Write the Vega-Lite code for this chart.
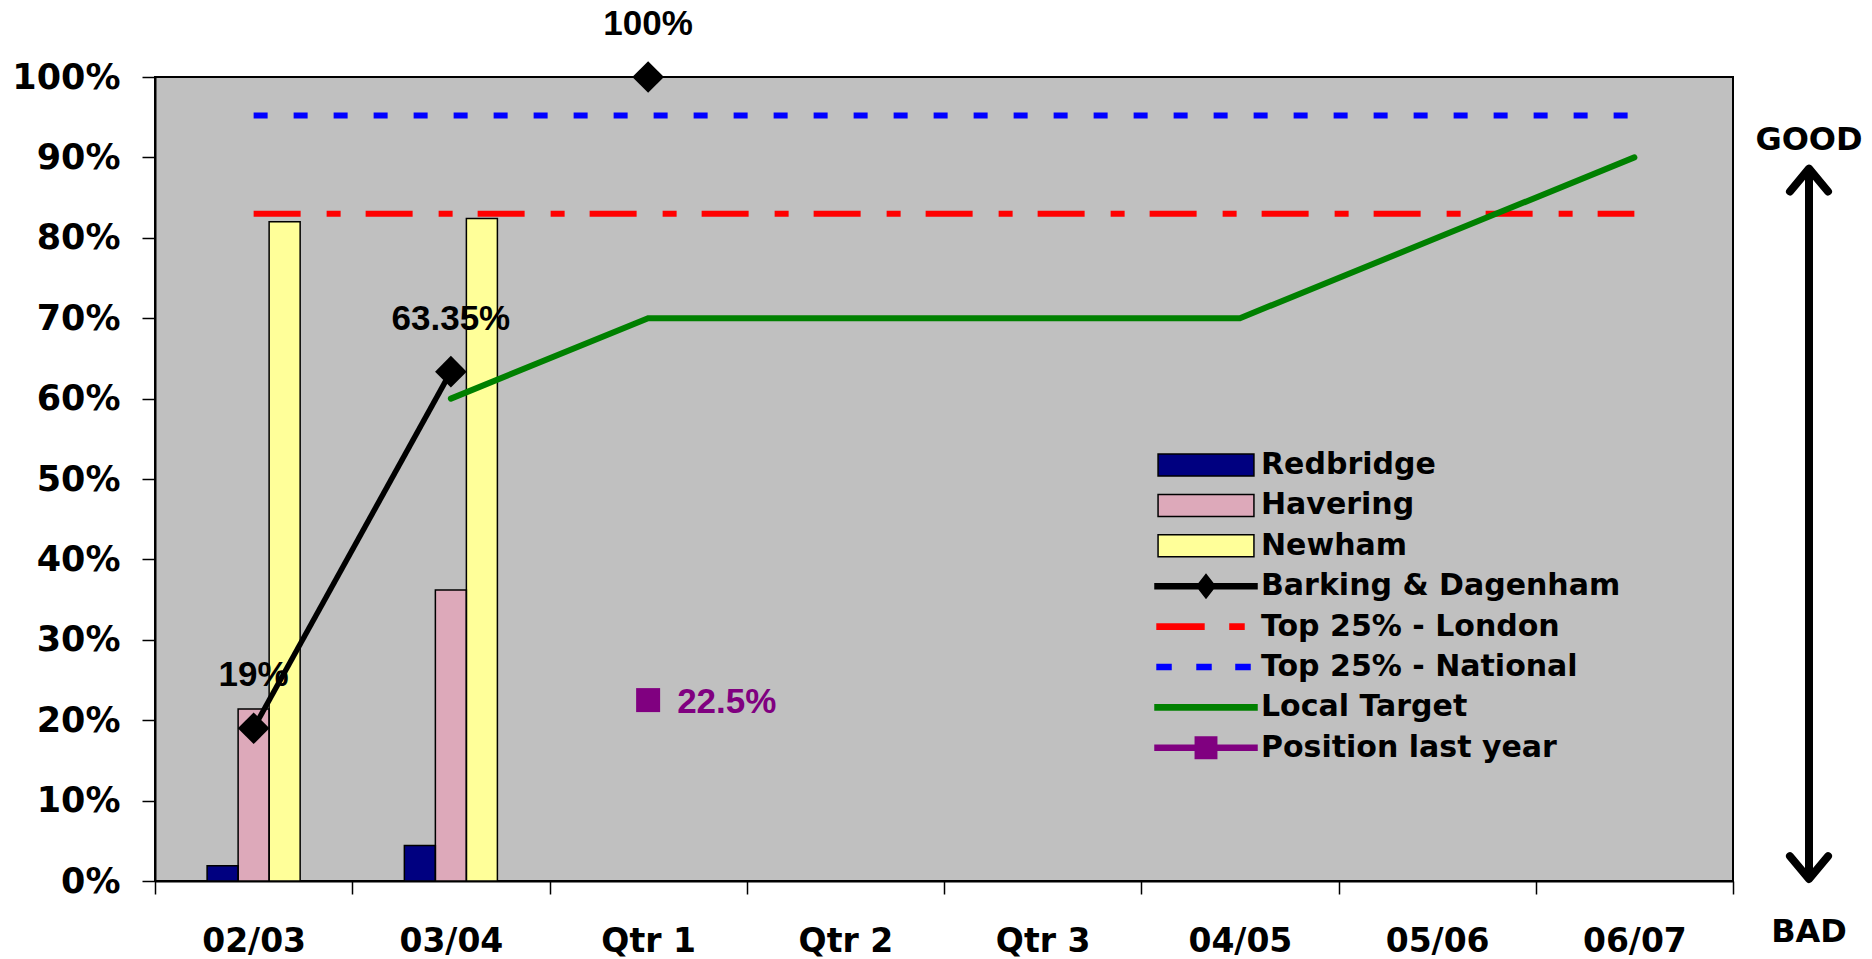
{
  "$schema": "https://vega.github.io/schema/vega-lite/v6.json",
  "background": "white",
  "padding": {"left": 10, "top": 6, "right": 0, "bottom": 0},
  "spacing": 6,
  "bounds": "flush",
  "resolve": {"scale": {"x": "independent", "y": "independent", "color": "independent", "shape": "independent"}},
  "datasets": {
    "bars": [
      {"period": "02/03", "town": "Redbridge", "value": 0.019},
      {"period": "02/03", "town": "Havering", "value": 0.214},
      {"period": "02/03", "town": "Newham", "value": 0.82},
      {"period": "03/04", "town": "Redbridge", "value": 0.044},
      {"period": "03/04", "town": "Havering", "value": 0.362},
      {"period": "03/04", "town": "Newham", "value": 0.824}
    ],
    "national": [
      {"period": "02/03", "value": 0.952}, {"period": "03/04", "value": 0.952},
      {"period": "Qtr 1", "value": 0.952}, {"period": "Qtr 2", "value": 0.952},
      {"period": "Qtr 3", "value": 0.952}, {"period": "04/05", "value": 0.952},
      {"period": "05/06", "value": 0.952}, {"period": "06/07", "value": 0.952}
    ],
    "london": [
      {"period": "02/03", "value": 0.83}, {"period": "03/04", "value": 0.83},
      {"period": "Qtr 1", "value": 0.83}, {"period": "Qtr 2", "value": 0.83},
      {"period": "Qtr 3", "value": 0.83}, {"period": "04/05", "value": 0.83},
      {"period": "05/06", "value": 0.83}, {"period": "06/07", "value": 0.83}
    ],
    "target": [
      {"period": "03/04", "value": 0.6}, {"period": "Qtr 1", "value": 0.7},
      {"period": "Qtr 2", "value": 0.7}, {"period": "Qtr 3", "value": 0.7},
      {"period": "04/05", "value": 0.7}, {"period": "05/06", "value": 0.8},
      {"period": "06/07", "value": 0.9}
    ],
    "bd": [
      {"period": "02/03", "value": 0.19, "seg": "a"},
      {"period": "03/04", "value": 0.6335, "seg": "a"},
      {"period": "Qtr 1", "value": 1.0, "seg": "b"}
    ],
    "last": [{"period": "Qtr 1", "value": 0.225}],
    "arrow": [{"top": 0.88, "bottom": 0.008}],
    "heads": [{"dir": "up", "value": 0.886}, {"dir": "down", "value": 0.0025}],
    "words": [{"word": "GOOD", "value": 0.9216}, {"word": "BAD", "value": -0.0634}]
  },
  "hconcat": [
    {
      "width": 1578,
      "height": 804,
      "view": {"fill": "#C0C0C0", "stroke": "black", "strokeWidth": 2},
      "encoding": {
        "x": {
          "field": "period", "type": "nominal", "sort": null,
          "scale": {"domain": ["02/03", "03/04", "Qtr 1", "Qtr 2", "Qtr 3", "04/05", "05/06", "06/07"], "paddingInner": 0, "paddingOuter": 0},
          "axis": {"title": null, "labelAngle": 0, "tickBand": "extent", "tickSize": 13, "labelPadding": 31,
                   "labelFont": "DejaVu Sans", "labelFontSize": 33, "labelFontWeight": "bold", "labelColor": "black",
                   "domainColor": "black", "domainWidth": 2, "tickColor": "black", "tickWidth": 1.5, "grid": false}
        },
        "y": {
          "field": "value", "type": "quantitative",
          "scale": {"domain": [0, 1], "nice": false},
          "axis": {"title": null, "values": [0, 0.1, 0.2, 0.3, 0.4, 0.5, 0.6, 0.7, 0.8, 0.9, 1], "format": ".0%",
                   "tickSize": 13, "labelPadding": 22, "labelFont": "DejaVu Sans", "labelFontSize": 35, "labelFontWeight": "bold",
                   "labelColor": "black", "domainColor": "black", "domainWidth": 2, "tickColor": "black", "tickWidth": 1.5, "grid": false}
        }
      },
      "layer": [
        {
          "data": {"name": "bars"},
          "mark": {"type": "bar"},
          "encoding": {
            "xOffset": {"field": "town", "type": "nominal", "sort": null,
                        "scale": {"domain": [" ", "Redbridge", "Havering", "Newham", "  "], "paddingInner": 0, "paddingOuter": 0.68}},
            "color": {
              "field": "town", "type": "nominal",
              "scale": {
                "domain": ["Redbridge", "Havering", "Newham", "Barking & Dagenham", "Top 25% - London", "Top 25% - National", "Local Target", "Position last year"],
                "range": ["#000080", "#DDA9BA", "#FFFF99", "black", "red", "blue", "#008000", "#800080"]
              },
              "legend": {
                "orient": "none", "legendX": 999, "legendY": 368, "title": null, "direction": "vertical",
                "symbolSize": 10404, "symbolStrokeWidth": 1.5, "symbolOffset": 0, "labelOffset": 3,
                "labelFont": "DejaVu Sans", "labelFontSize": 30, "labelFontWeight": "bold", "labelColor": "black",
                "labelLimit": 1000, "clipHeight": 40, "rowPadding": 0.4, "padding": 0, "symbolOpacity": 1,
                "symbolType": {"expr": "indexof(['Redbridge','Havering','Newham'], datum.value) >= 0 ? 'M-0.94,-0.216H0.94V0.216H-0.94Z' : datum.value === 'Barking & Dagenham' ? 'M-1,-0.05H1V0.05H-1ZM-0.18,0L0,-0.23L0.18,0L0,0.23Z' : datum.value === 'Top 25% - London' ? 'M-0.96,-0.05H-0.04V0.05H-0.96ZM0.47,-0.05H0.745V0.05H0.47Z' : datum.value === 'Top 25% - National' ? 'M-0.96,-0.05H-0.686V0.05H-0.96ZM-0.176,-0.05H0.098V0.05H-0.176ZM0.588,-0.05H0.863V0.05H0.588Z' : datum.value === 'Position last year' ? 'M-1,-0.05H1V0.05H-1ZM-0.21,-0.21H0.21V0.21H-0.21Z' : 'M-1,-0.05H1V0.05H-1Z'"},
                "symbolStrokeColor": {"expr": "indexof(['Redbridge','Havering','Newham','Barking & Dagenham'], datum.value) >= 0 ? 'black' : datum.value === 'Top 25% - London' ? 'red' : datum.value === 'Top 25% - National' ? 'blue' : datum.value === 'Local Target' ? '#008000' : '#800080'"}
              }
            }
          }
        },
        {
          "data": {"name": "bars"},
          "mark": {"type": "bar", "filled": false, "stroke": "black", "strokeWidth": 1.5},
          "encoding": {
            "xOffset": {"field": "town", "type": "nominal", "sort": null}
          }
        },
        {
          "data": {"name": "national"},
          "mark": {"type": "line", "color": "blue", "strokeWidth": 6, "strokeDash": [14, 26], "strokeCap": "butt"}
        },
        {
          "data": {"name": "london"},
          "mark": {"type": "line", "color": "red", "strokeWidth": 6, "strokeDash": [47, 26, 14, 25], "strokeCap": "butt"}
        },
        {
          "data": {"name": "target"},
          "mark": {"type": "line", "color": "#008000", "strokeWidth": 6, "strokeCap": "round"}
        },
        {
          "data": {"name": "bd"},
          "mark": {"type": "line", "color": "black", "strokeWidth": 5.5,
                   "point": {"filled": true, "shape": "diamond", "size": 1000, "color": "black", "opacity": 1}},
          "encoding": {"detail": {"field": "seg", "type": "nominal"}}
        },
        {
          "data": {"name": "last"},
          "mark": {"type": "point", "shape": "square", "filled": true, "size": 576, "color": "#800080", "opacity": 1}
        },
        {
          "data": {"name": "bd"},
          "mark": {"type": "text", "dy": -53, "baseline": "middle", "font": "Liberation Sans", "fontWeight": "bold", "fontSize": 35, "color": "black"},
          "encoding": {"text": {"field": "value", "type": "quantitative", "format": ".2~%"}}
        },
        {
          "data": {"name": "last"},
          "mark": {"type": "text", "align": "left", "dx": 29, "dy": 2, "baseline": "middle", "font": "Liberation Sans", "fontWeight": "bold", "fontSize": 35, "color": "#800080"},
          "encoding": {"text": {"field": "value", "type": "quantitative", "format": ".2~%"}}
        }
      ]
    },
    {
      "width": 140,
      "height": 804,
      "view": {"stroke": null, "fill": null},
      "layer": [
        {
          "data": {"name": "arrow"},
          "mark": {"type": "rule", "color": "black", "strokeWidth": 8},
          "encoding": {
            "y": {"field": "top", "type": "quantitative", "scale": {"domain": [0, 1], "nice": false}, "axis": null},
            "y2": {"field": "bottom"}
          }
        },
        {
          "data": {"name": "heads"},
          "mark": {"type": "point", "filled": false, "color": "black", "strokeWidth": 8, "size": 1444, "opacity": 1, "strokeCap": "round", "strokeJoin": "round"},
          "encoding": {
            "y": {"field": "value", "type": "quantitative", "scale": {"domain": [0, 1], "nice": false}, "axis": null},
            "shape": {"field": "dir", "type": "nominal", "scale": {"domain": ["up", "down"], "range": ["M-1,1.2L0,0L1,1.2", "M-1,-1.2L0,0L1,-1.2"]}, "legend": null}
          }
        },
        {
          "data": {"name": "words"},
          "mark": {"type": "text", "font": "DejaVu Sans", "fontWeight": "bold", "fontSize": 32, "color": "black", "baseline": "middle"},
          "encoding": {
            "y": {"field": "value", "type": "quantitative", "scale": {"domain": [0, 1], "nice": false}, "axis": null},
            "text": {"field": "word", "type": "nominal"}
          }
        }
      ]
    }
  ]
}
